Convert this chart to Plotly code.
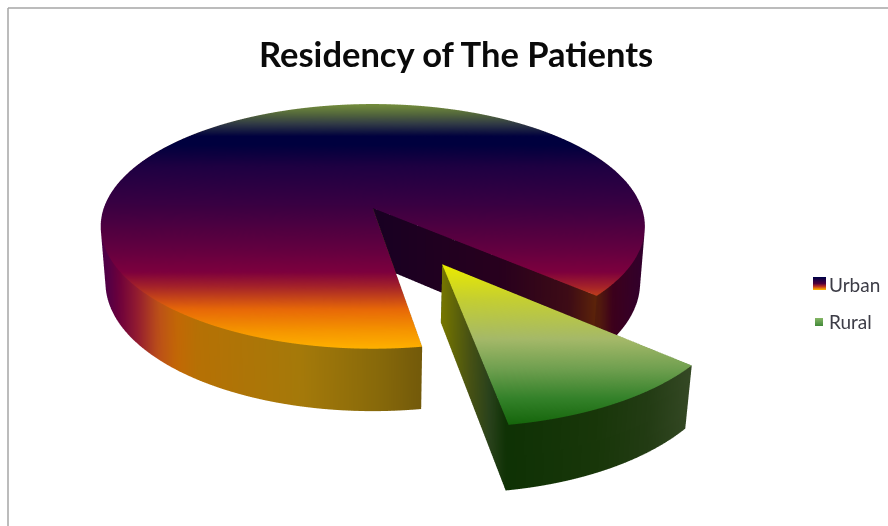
import numpy as np
import plotly.graph_objects as go

# Chart content
title_text = "Residency of The Patients"
categories = ["Urban", "Rural"]
shares = [89, 11]

# Pie construction and view
START_DEG = 9.0          # clockwise-from-front angle where the Rural slice begins
EXPLODE = 0.5            # Rural slice pull-out, in pie radii
THICKNESS = 0.235
ELEVATION = np.radians(26.4)
CAM_DIST = 6.0
FOCAL = 1632.0
CX, CY = 372.0, 207.5
W, H = 888, 526
VIEW_SCALE = 1 / 0.5055  # orthographic zoom is set through the scene aspect ratio

# Colour ramps: (screen position, rgb)
urban_top = [(103, (115, 140, 60)), (112, (85, 105, 60)), (122, (50, 60, 70)), (135, (0, 0, 62)),
             (143, (0, 0, 62)), (165, (30, 0, 66)), (205, (58, 0, 66)), (250, (100, 0, 64)),
             (272, (125, 0, 62)), (287, (165, 35, 42)), (310, (232, 105, 8)), (332, (246, 150, 0)),
             (350, (255, 178, 0))]
urban_side = [(100, (78, 0, 70)), (105, (85, 0, 70)), (115, (108, 0, 60)), (135, (150, 30, 48)),
              (155, (188, 80, 25)), (175, (195, 105, 5)), (195, (182, 113, 5)), (300, (165, 122, 10)),
              (380, (135, 105, 10)), (422, (115, 90, 10)), (590, (70, 25, 15)), (600, (85, 30, 12)),
              (615, (60, 0, 28)), (645, (50, 0, 45))]
urban_wall = [(375, (25, 0, 35)), (500, (40, 0, 30)), (570, (62, 12, 22)), (597, (92, 35, 10))]
rural_top = [(265, (235, 235, 0)), (300, (197, 207, 50)), (340, (165, 185, 105)),
             (370, (112, 160, 80)), (400, (52, 130, 42)), (428, (20, 100, 10))]
rural_wall = [(442, (118, 118, 0)), (470, (72, 82, 20)), (490, (42, 66, 28)), (507, (15, 50, 5))]
rural_side = [(507, (15, 50, 5)), (600, (25, 55, 10)), (650, (35, 60, 20)), (691, (52, 72, 36))]
urban_swatch = [(0, (0, 0, 70)), (0.5, (80, 0, 60)), (0.75, (190, 50, 30)), (1, (250, 170, 0))]
rural_swatch = [(0, (130, 180, 100)), (1, (70, 140, 60))]


def project(X, Y, Z):
    """Pinhole projection of pie coordinates to page pixels, plus view depth."""
    c, s = np.cos(ELEVATION), np.sin(ELEVATION)
    depth = CAM_DIST + Y * c - Z * s
    v = Y * s + Z * c
    return CX + FOCAL * X / depth, CY - FOCAL * v / depth, depth


def ramp(stops, t):
    pos = [p for p, _ in stops]
    return np.stack([np.interp(t, pos, [col[i] for _, col in stops]) for i in range(3)], axis=-1)


class Solid:
    """Collects quad grids into one triangle mesh with per-vertex colour."""

    def __init__(self):
        self.x, self.y, self.z, self.c, self.i, self.j, self.k = [], [], [], [], [], [], []
        self.n = 0

    def add(self, X, Y, Z, stops, by):
        sx, sy, d = project(X, Y, Z)
        rgb = ramp(stops, sx if by == "x" else sy)
        rows, cols = X.shape
        self.x += sx.ravel().tolist()
        self.y += (H - sy).ravel().tolist()
        self.z += (-d).ravel().tolist()
        self.c += [f"rgb({int(r)},{int(g)},{int(b)})" for r, g, b in rgb.reshape(-1, 3)]
        idx = self.n + np.arange(rows * cols).reshape(rows, cols)
        a, b, e, f = idx[:-1, :-1].ravel(), idx[1:, :-1].ravel(), idx[1:, 1:].ravel(), idx[:-1, 1:].ravel()
        self.i += np.r_[a, a].tolist()
        self.j += np.r_[b, e].tolist()
        self.k += np.r_[e, f].tolist()
        self.n += rows * cols


def wedge(a0, a1, ox, oy, top, side, walls, nr=90, na=260):
    """Top face, rim and both cut walls of a pie wedge; angles run clockwise from the front."""
    solid = Solid()
    ang = np.radians(np.linspace(a0, a1, na))
    rad = np.linspace(0, 1, nr)
    R, A = np.meshgrid(rad, ang, indexing="ij")
    solid.add(ox + R * np.sin(A), oy - R * np.cos(A), np.zeros_like(R), top, "y")
    zs = np.linspace(0, -THICKNESS, 2)
    Zr, Ar = np.meshgrid(zs, ang, indexing="ij")
    solid.add(ox + np.sin(Ar), oy - np.cos(Ar), Zr, side, "x")
    for a, stops in zip((a0, a1), walls):
        rr = np.linspace(0, 1, 120)
        Rw, Zw = np.meshgrid(rr, zs, indexing="ij")
        solid.add(ox + Rw * np.sin(np.radians(a)), oy - Rw * np.cos(np.radians(a)), Zw, stops, "x")
    return solid


rural_sweep = 360 * shares[1] / sum(shares)
mid = np.radians(START_DEG + rural_sweep / 2)
rural = wedge(START_DEG, START_DEG + rural_sweep,
              EXPLODE * np.sin(mid), -EXPLODE * np.cos(mid),
              rural_top, rural_side, (rural_wall, rural_side))
urban = wedge(START_DEG + rural_sweep, START_DEG + 360, 0, 0,
              urban_top, urban_side, (urban_wall, urban_side))

light = dict(ambient=1, diffuse=0, specular=0, roughness=1, fresnel=0)
fig = go.Figure()
for name, s in zip(categories, (urban, rural)):
    fig.add_trace(go.Mesh3d(x=s.x, y=s.y, z=s.z, i=s.i, j=s.j, k=s.k, vertexcolor=s.c,
                            name=name, lighting=light, flatshading=False, hoverinfo="name"))

hidden = dict(visible=False)
fig.update_layout(
    width=W, height=H, autosize=False, margin=dict(l=0, r=0, t=0, b=0),
    paper_bgcolor="white", showlegend=False,
    scene=dict(
        domain=dict(x=[0, 1], y=[0, 1]),
        xaxis=dict(range=[0, W], **hidden),
        yaxis=dict(range=[0, H], **hidden),
        zaxis=dict(range=[-9, -3], **hidden),
        aspectmode="manual",
        aspectratio=dict(x=VIEW_SCALE * W / H, y=VIEW_SCALE, z=1),
        bgcolor="rgba(0,0,0,0)",
        camera=dict(eye=dict(x=0, y=0, z=1), up=dict(x=0, y=1, z=0),
                    center=dict(x=0, y=0, z=0), projection=dict(type="orthographic")),
    ),
)

# Chart frame, clipped by the page on the right and bottom
for x0, y0, x1, y1 in [(8, 8, W, 8), (8, 8, 8, H)]:
    fig.add_shape(type="line", xref="paper", yref="paper", x0=x0 / W, x1=x1 / W,
                  y0=1 - y0 / H, y1=1 - y1 / H, line=dict(color="#a6a6a6", width=1.5))


def text(label, x, y, size, bold=False, color="#3c3c46", anchor="center"):
    fig.add_annotation(text=f"<b>{label}</b>" if bold else label, xref="paper", yref="paper",
                       x=x / W, y=1 - y / H, xanchor=anchor, yanchor="middle", showarrow=False,
                       font=dict(family="Lato", size=size, color=color))


text(title_text, 456, 54, 34.5, bold=True, color="#0a0a0a")


def swatch(x0, x1, y0, y1, stops):
    for n in range(int(y1 - y0)):
        r, g, b = ramp(stops, np.array(n / max(y1 - y0 - 1, 1)))
        fig.add_shape(type="rect", xref="paper", yref="paper", x0=x0 / W, x1=x1 / W,
                      y0=1 - (y0 + n) / H, y1=1 - (y0 + n + 1) / H, line_width=0,
                      fillcolor=f"rgb({int(r)},{int(g)},{int(b)})")


swatch(813, 826, 277, 290, urban_swatch)
swatch(815, 823, 318, 326, rural_swatch)
text(categories[0], 827, 284, 19, anchor="left")
text(categories[1], 827, 321, 19, anchor="left")

fig.write_html("out.html")
